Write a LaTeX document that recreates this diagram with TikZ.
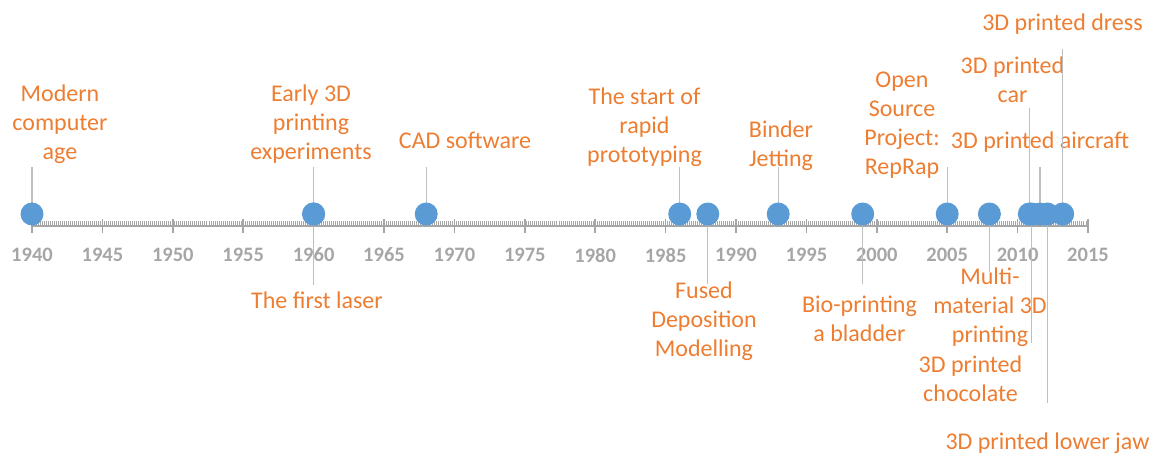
\documentclass[tikz,border=0pt]{standalone}
\usepackage{fontspec}
\setmainfont{Carlito}
\definecolor{evt}{HTML}{ED7D31}
\definecolor{dotblue}{HTML}{5B9BD5}
\definecolor{axisgray}{HTML}{A6A6A6}
\definecolor{leadgray}{HTML}{BFBFBF}
\begin{document}
\begin{tikzpicture}[x=1pt,y=-1pt,
  evtlabel/.style={text=evt, font=\fontsize{24}{29}\selectfont, align=center, inner sep=0pt},
  yearlabel/.style={text=axisgray, font=\fontsize{20.5}{24}\selectfont\bfseries, inner sep=0pt},
  dot/.style={circle, fill=dotblue, minimum size=23pt, inner sep=0pt},
  leader/.style={draw=leadgray, line width=1.2pt},
  axisline/.style={draw=axisgray, line width=2.2pt},
  minortick/.style={draw=axisgray, line width=1pt},
  majortick/.style={draw=axisgray, line width=1.6pt}]
\useasboundingbox (0,0) rectangle (1157,455);

% time axis: 1940 at x=32, 14.08 units per year
\foreach \i in {0,...,525}
  \draw[minortick] ({32+\i*14.08/7},221) -- ({32+\i*14.08/7},226);
\draw[axisline] (32,226) -- (1088,226);
\foreach \yr in {1940,1945,...,2015} {
  \draw[majortick] ({32+(\yr-1940)*14.08},219) -- ({32+(\yr-1940)*14.08},233);
  \node[yearlabel] (y\yr) at ({32+(\yr-1940)*14.08},255) {\yr};
}

% event labels
\node[evtlabel] (t1)  at (60,124)    {Modern\\computer\\age};
\node[evtlabel] (t2)  at (311,124)   {Early 3D\\printing\\experiments};
\node[evtlabel] (t3)  at (317,300)   {The first laser};
\node[evtlabel] (t4)  at (465,140)   {CAD software};
\node[evtlabel] (t5)  at (644.5,127) {The start of\\rapid\\prototyping};
\node[evtlabel] (t6)  at (704,321)   {Fused\\Deposition\\Modelling};
\node[evtlabel] (t7)  at (781,146)   {Binder\\Jetting};
\node[evtlabel] (t8)  at (859.5,319) {Bio-printing\\a bladder};
\node[evtlabel] (t9)  at (902,125)   {Open\\Source\\Project:\\RepRap};
\node[evtlabel] (t10) at (990,307)   {Multi-\\material 3D\\printing};
\node[evtlabel] (t11) at (1012.5,80) {3D printed\\car};
\node[evtlabel] (t12) at (970.5,379) {3D printed\\chocolate};
\node[evtlabel] (t13) at (1040,142)  {3D printed aircraft};
\node[evtlabel] (t14) at (1047.5,443){3D printed lower jaw};
\node[evtlabel] (t15) at (1062.5,24) {3D printed dress};

% leader ends
\coordinate (e1)  at (32,167);
\coordinate (e2)  at (313.6,167);
\coordinate (e3)  at (313.6,285);
\coordinate (e4)  at (426.2,167);
\coordinate (e5)  at (679.7,167);
\coordinate (e6)  at (707.8,284);
\coordinate (e7)  at (778.2,167);
\coordinate (e8)  at (862.7,284);
\coordinate (e9)  at (947.2,167);
\coordinate (e10) at (989.4,272);
\coordinate (e11) at (1029.3,108);
\coordinate (e12) at (1031.7,343);
\coordinate (e13) at (1040,167);
\coordinate (e14) at (1047.3,403);
\coordinate (e15) at (1062.7,49);

% event points
\foreach \n/\x in {1/32,2/313.6,3/313.6,4/426.2,5/679.7,6/707.8,7/778.2,8/862.7,
                   9/947.2,10/989.4,11/1029.3,12/1031.7,13/1040,14/1047.3,15/1062.7}
  \coordinate (c\n) at (\x,214);
\foreach \n in {1,...,15}
  \draw[leader] (c\n) -- (e\n);
\foreach \n in {1,...,15}
  \node[dot] (d\n) at (c\n) {};
\end{tikzpicture}
\end{document}
